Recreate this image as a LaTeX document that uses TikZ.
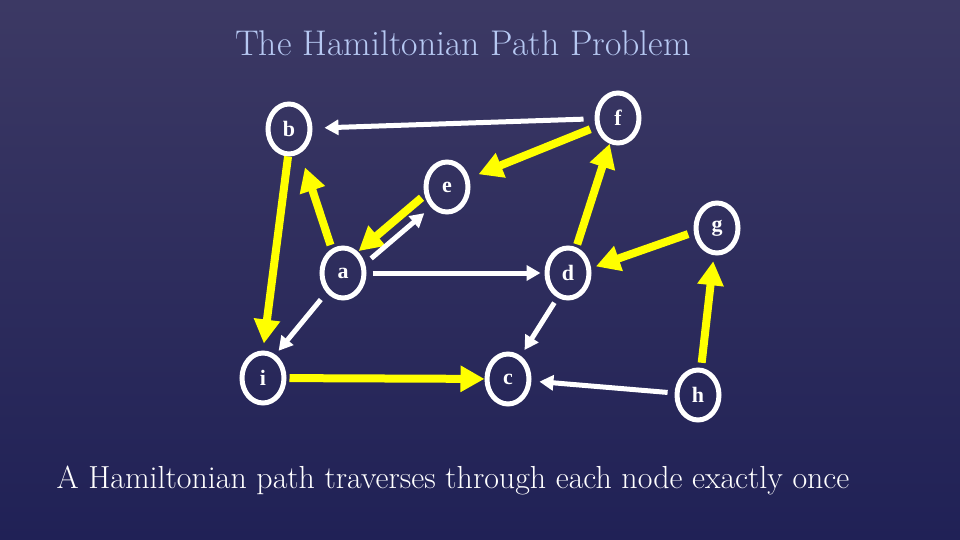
\documentclass[tikz,border=0pt]{standalone}
\usepackage{fontspec}
\usepackage{tikz}
\usetikzlibrary{arrows.meta,shapes.geometric}
\newfontfamily\lettfont{Liberation Serif}
\definecolor{slidetop}{RGB}{60,57,100}
\definecolor{slidemid}{RGB}{52,50,98}
\definecolor{slidebot}{RGB}{32,33,86}
\definecolor{hampath}{RGB}{255,255,0}
\definecolor{heading}{RGB}{182,200,242}

\begin{document}
\begin{tikzpicture}[x=1pt,y=-1pt,
  vtx/.style={draw=white,line width=5pt,ellipse,minimum width=42pt,minimum height=50pt,inner sep=0pt,outer sep=2.5pt,
    text=white,font=\lettfont\bfseries\fontsize{22}{22}\selectfont},
  ham/.style={draw=hampath,line width=8pt,-{Triangle[length=24pt,width=25pt]}},
  link/.style={draw=white,line width=5pt,-{Triangle[length=14pt,width=15pt]}}]
  \shade[top color=slidetop,middle color=slidemid,bottom color=slidebot] (0,0) rectangle (960,540);
  \useasboundingbox (0,0) rectangle (960,540);
  \node[anchor=base,text=heading,font=\fontsize{35.7}{36}\selectfont] (title) at (463,56) {The Hamiltonian Path Problem};
  \node[anchor=base,text=white,font=\fontsize{31.9}{32}\selectfont] (note) at (453,488) {A Hamiltonian path traverses through each node exactly once};
  % vertices
  \node[vtx] (b) at (289,129) {b};
  \node[vtx] (f) at (618,118) {f};
  \node[vtx] (e) at (447,187) {e};
  \node[vtx] (g) at (717,228) {g};
  \node[vtx] (a) at (343,273) {a};
  \node[vtx] (d) at (568,273) {d};
  \node[vtx] (i) at (263,378) {i};
  \node[vtx] (c) at (508,379) {c};
  \node[vtx] (h) at (698,395) {h};
  % the path h-g-d-f-e-a-b-i-c
  \draw[ham,shorten <=5pt,shorten >=6pt] (h) -- (g);
  \draw[ham,shorten <=6pt,shorten >=5pt] (g.190) -- (d.12);
  \draw[ham,shorten <=3pt] (d) -- (f);
  \draw[ham,shorten <=6pt,shorten >=10pt] (f) -- (e);
  \draw[ham,shorten <=4pt,shorten >=1pt] (e.200) -- (a.55);
  \draw[ham,shorten <=4pt,shorten >=15pt] (a.115) -- (b.-65);
  \draw[ham,shorten >=7pt] (b.268) -- (i.90);
  \draw[ham,shorten <=3pt] (i) -- (c);
  % other edges
  \draw[link,shorten <=11pt,shorten >=12pt] (f) -- (b);
  \draw[link,shorten <=8pt,shorten >=9pt] (a.23) -- (e.232);
  \draw[link,shorten <=9pt,shorten >=5pt] (a.230) -- (i.62);
  \draw[link,shorten <=6pt,shorten >=4pt] (a) -- (d);
  \draw[link,shorten <=6pt,shorten >=7pt] (d.247) -- (c.61);
  \draw[link,shorten <=7pt,shorten >=8pt] (h) -- (c);
\end{tikzpicture}
\end{document}
